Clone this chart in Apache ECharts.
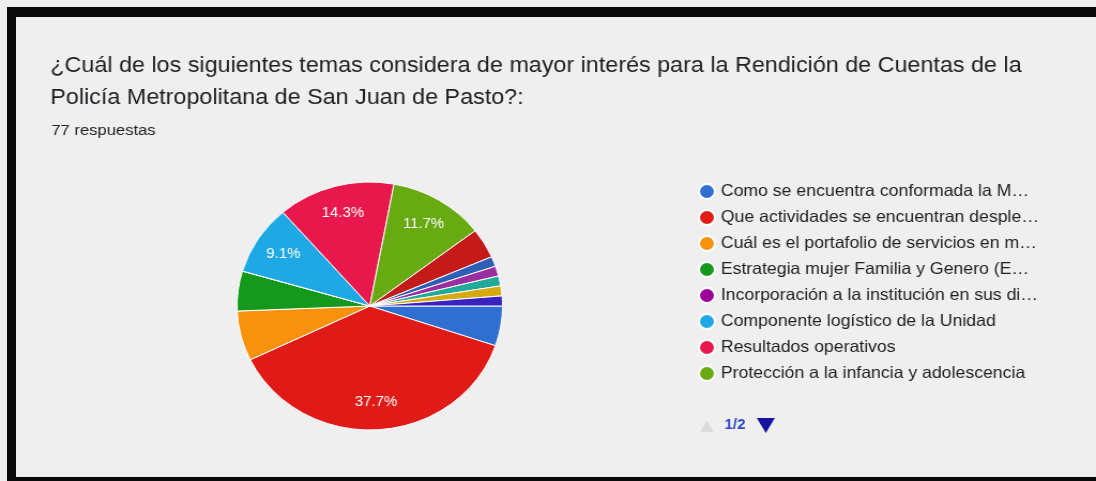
<!DOCTYPE html>
<html>
<head>
<meta charset="utf-8">
<script src="https://cdn.jsdelivr.net/npm/echarts@6/dist/echarts.min.js"></script>
<style>
html,body{margin:0;padding:0;background:#efefef;}
#frame{position:absolute;left:0;top:0;width:1096px;height:481px;background:#efefef;overflow:hidden;}
#bt{position:absolute;left:7px;top:7px;width:1089px;height:10px;background:#0a0a0a;}
#bl{position:absolute;left:7px;top:7px;width:9px;height:474px;background:#0a0a0a;}
#bb{position:absolute;left:7px;top:477px;width:1089px;height:4px;background:#0a0a0a;}
#chart{position:absolute;left:0;top:0;width:1024px;height:481px;transform:scaleX(1.0703);transform-origin:0 0;}
</style>
</head>
<body>
<div id="frame">
<div id="chart"></div>
<div id="bt"></div><div id="bl"></div><div id="bb"></div>
</div>
<script>
const titleLines = [
  '¿Cuál de los siguientes temas considera de mayor interés para la Rendición de Cuentas de la',
  'Policía Metropolitana de San Juan de Pasto?:'
];
const subtitle = '77 respuestas';
const categories = [
  'Como se encuentra conformada la M…',
  'Que actividades se encuentran desple…',
  'Cuál es el portafolio de servicios en m…',
  'Estrategia mujer Familia y Genero (E…',
  'Incorporación a la institución en sus di…',
  'Componente logístico de la Unidad',
  'Resultados operativos',
  'Protección a la infancia y adolescencia',
  'Otra respuesta 1',
  'Otra respuesta 2',
  'Otra respuesta 3',
  'Otra respuesta 4',
  'Otra respuesta 5',
  'Otra respuesta 6'
];
const counts = [4, 29, 5, 4, 0, 7, 11, 9, 3, 1, 1, 1, 1, 1];
const colors = ['#2f6fd2','#e01a16','#f8920c','#15991c','#990099','#1ea8e4','#e8184c','#68aa12','#c41a1a','#2d5fb8','#9a2ea0','#22aa99','#d4aa10','#3a22c0'];
const legendPage1 = categories.slice(0, 8);
const pageText = '1/2';

const total = counts.reduce((a, b) => a + b, 0);
const pieData = categories.map((n, i) => ({ name: n, value: counts[i], itemStyle: { color: colors[i] } }));
const labelData = categories.map((n, i) => ({ name: n, value: counts[i] }));

const chart = echarts.init(document.getElementById('chart'));
const FONT = 'Arial, "Liberation Sans", sans-serif';
chart.setOption({
  backgroundColor: 'transparent',
  animation: false,
  title: [
    { text: titleLines.join('\n'), left: 42, top: 45,
      textStyle: { fontFamily: FONT, fontSize: 21.8, fontWeight: 'normal', color: '#202124', lineHeight: 32 } },
    { text: subtitle, left: 43, top: 118,
      textStyle: { fontFamily: FONT, fontSize: 15.5, fontWeight: 'normal', color: '#202124' } }
  ],
  legend: {
    orient: 'vertical',
    left: 647,
    top: 178,
    itemWidth: 16,
    itemHeight: 15,
    itemGap: 9,
    icon: 'circle',
    data: legendPage1,
    selectedMode: false,
    textStyle: { fontFamily: FONT, fontSize: 16.5, color: '#202124' }
  },
  graphic: [
    { type: 'polygon', shape: { points: [[654, 432], [660.5, 421], [667, 432]] }, style: { fill: '#dadada' }, silent: true },
    { type: 'text', left: 677, top: 418, style: { text: pageText, fill: '#2a46c0', font: 'bold 14px Arial, "Liberation Sans", sans-serif' }, silent: true },
    { type: 'polygon', shape: { points: [[707, 418], [724, 418], [715.5, 433]] }, style: { fill: '#1414a0' }, silent: true }
  ],
  series: [
    {
      type: 'pie',
      center: [345.5, 306],
      radius: [0, 124],
      startAngle: 0,
      clockwise: true,
      silent: true,
      label: { show: false },
      labelLine: { show: false },
      itemStyle: { borderColor: '#ffffff', borderWidth: 1 },
      data: pieData
    },
    {
      type: 'pie',
      center: [345.5, 306],
      radius: [62, 124],
      startAngle: 0,
      clockwise: true,
      silent: true,
      legendHoverLink: false,
      itemStyle: { color: 'rgba(0,0,0,0)', borderWidth: 0 },
      label: {
        show: true, position: 'inside', color: '#ffffff', fontFamily: FONT, fontSize: 14,
        formatter: p => (p.value >= 7 ? (p.value / total * 100).toFixed(1) + '%' : '')
      },
      labelLine: { show: false },
      data: labelData
    }
  ]
});
</script>
</body>
</html>
